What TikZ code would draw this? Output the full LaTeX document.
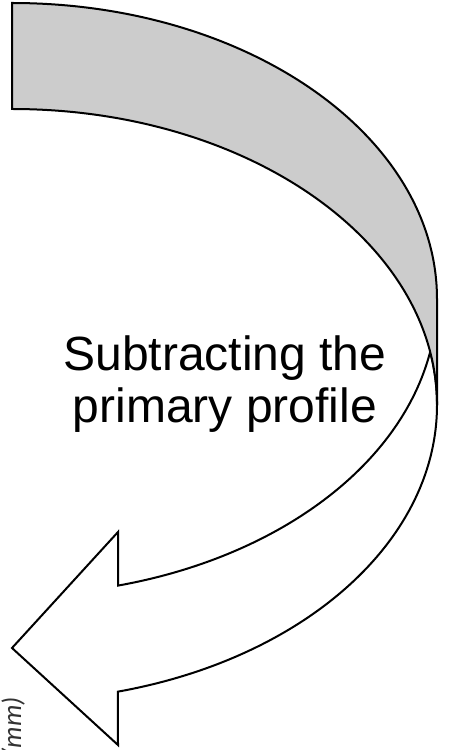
\documentclass[tikz,border=0pt]{standalone}
\usepackage{fontspec}
\setmainfont{Liberation Sans}
\newfontfamily\labelfont{Carlito}
\begin{document}
\begin{tikzpicture}[x=1pt,y=1pt,
  band/.style={draw=black, line width=2pt, line join=miter},
  backband/.style={band, fill=black!20},
  frontband/.style={band, fill=white},
  caption/.style={font=\fontsize{48}{52}\selectfont, inner sep=0pt, anchor=base},
  axislabel/.style={font=\labelfont\itshape\fontsize{27}{30}\selectfont, text=black!80, inner sep=0pt, rotate=90, anchor=base east}
]
\useasboundingbox (0,0) rectangle (449,750);
\clip (0,0) rectangle (449,750);
% geometry
\coordinate (c1) at (12,451);   % centre of outer ellipse
\coordinate (c2) at (12,345);   % centre of inner ellipse
\coordinate (tl) at (12,747);
\coordinate (ml) at (12,641);
\coordinate (r1) at (437,451);
\coordinate (r2) at (437,345);
\coordinate (ox) at (118,58.4);
\coordinate (ix) at (118,164.4);
\coordinate (hb) at (118,5);
\coordinate (ht) at (118,218);
\coordinate (tip) at (12,102);
% front (white) part of the curved arrow
\path[frontband] (r2) arc[start angle=0, end angle=-75.56, x radius=425pt, y radius=296pt]
  -- (hb) -- (tip) -- (ht) -- (ix)
  arc[start angle=-75.56, end angle=-10.31, x radius=425pt, y radius=296pt]
  arc[start angle=10.31, end angle=0, x radius=425pt, y radius=296pt] -- cycle;
% back (grey) part of the curved arrow
\path[backband] (tl) arc[start angle=90, end angle=0, x radius=425pt, y radius=296pt]
  -- (r2) arc[start angle=0, end angle=90, x radius=425pt, y radius=296pt] -- cycle;
% caption
\node[caption] (cap1) at (225,379) {Subtracting the};
\node[caption] (cap2) at (225,327) {primary profile};
% clipped axis label
\node[axislabel] (ylab) at (21,53) {(mm)};
\end{tikzpicture}
\end{document}
